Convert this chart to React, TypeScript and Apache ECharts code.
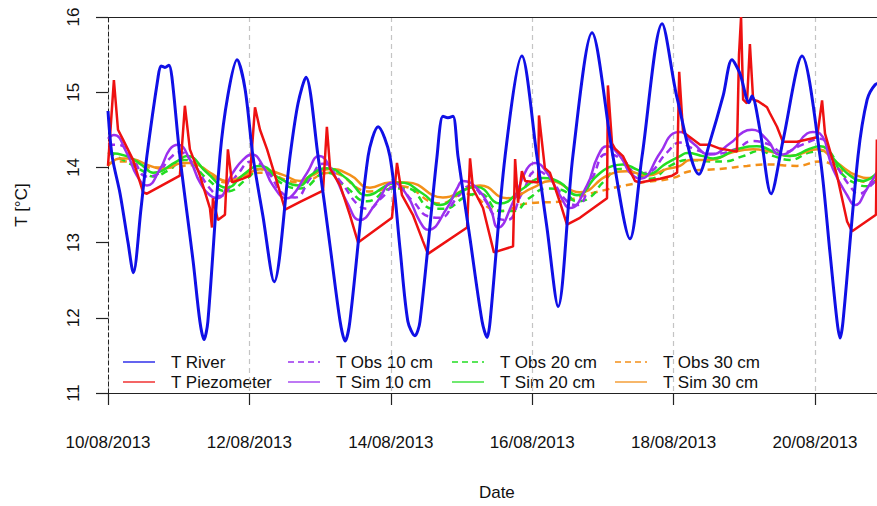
import React, { useEffect, useRef } from "react";
import * as echarts from "echarts";

// x values: hours since 10/08/2013 00:00 ; y values: temperature in °C
const dateTicksHours = [0, 48, 96, 144, 192, 240];
const xMaxHours = 264;
const yMin = 11;
const yMax = 16;

const tRiver: [number, number][] = [
  [0, 14.75], [1.4, 14.15], [4.1, 13.65], [6.8, 13.0], [8.6, 12.6], [11.2, 13.45], [13.2, 14.15],
  [17.0, 15.2], [18.0, 15.35], [19.3, 15.33], [20.7, 15.36], [21.7, 15.2], [24.4, 14.15], [28.9, 12.75],
  [31.2, 11.95], [32.6, 11.71], [33.9, 11.95], [38.0, 14.15], [40.7, 14.96], [43.8, 15.43], [46.5, 15.05],
  [49.2, 14.15], [52.6, 13.35], [56.4, 12.48], [61.8, 14.15], [64.5, 14.85], [67.2, 15.2], [71.3, 14.15],
  [75.4, 12.95], [78.8, 11.95], [80.5, 11.69], [82.1, 11.95], [88.3, 14.15], [91.7, 14.54], [95.7, 14.15],
  [99.1, 12.93], [101.8, 11.95], [104.2, 11.76], [105.9, 11.95], [111.7, 14.15], [113.7, 14.68],
  [115.4, 14.66], [117.1, 14.68], [118.8, 14.15], [122.9, 13.05], [127.0, 11.95], [128.7, 11.74],
  [129.7, 11.95], [134.8, 14.15], [140.5, 15.48], [145.6, 14.15], [149.0, 13.2], [152.8, 12.15],
  [157.8, 14.15], [164.3, 15.79], [171.4, 14.15], [177.2, 13.05], [181.3, 14.15], [188.1, 15.91],
  [193.2, 14.92], [200.6, 13.91], [204.4, 14.35], [208.8, 14.95], [211.8, 15.43], [214.5, 15.25],
  [217.6, 14.86], [218.6, 14.95], [221.3, 14.5], [225.1, 13.65], [229.1, 14.35], [235.6, 15.48],
  [241.7, 14.15], [245.1, 12.86], [247.5, 11.95], [248.5, 11.73], [249.5, 11.95], [254.6, 14.15],
  [257.7, 14.9], [260.4, 15.1], [262.5, 15.12],
];

const tPiezometer: [number, number][] = [
  [0, 14.02], [2.0, 15.16], [3.4, 14.5], [5.1, 14.37], [8.5, 14.1], [11.9, 13.67], [13.2, 13.65],
  [24.4, 13.89], [26.1, 14.82], [27.8, 14.24], [31.2, 13.89], [34.6, 13.46], [35.3, 13.2], [35.6, 13.59],
  [37.3, 13.3], [39.7, 13.37], [40.7, 14.24], [42.1, 13.8], [45.8, 13.85], [48.2, 13.89], [49.9, 14.8],
  [51.6, 14.5], [54.0, 14.24], [57.4, 13.8], [60.1, 13.44], [65.2, 13.54], [73.0, 13.69], [74.3, 14.54],
  [75.4, 13.98], [78.8, 13.76], [82.1, 13.37], [84.9, 13.0], [96.4, 13.33], [98.1, 14.06], [99.8, 13.63],
  [103.5, 13.37], [106.9, 13.02], [108.6, 12.85], [121.9, 13.2], [122.9, 14.12], [123.9, 13.72],
  [127.3, 13.46], [131.0, 12.87], [137.5, 12.95], [138.2, 14.11], [139.2, 13.53], [140.5, 13.95],
  [141.6, 13.82], [146.0, 13.8], [146.3, 14.69], [148.3, 13.99], [150.0, 13.93], [153.4, 13.54],
  [155.8, 13.24], [160.2, 13.33], [169.4, 13.59], [169.7, 15.09], [171.1, 14.32], [172.1, 14.25],
  [174.8, 14.15], [178.9, 13.82], [180.6, 13.8], [187.4, 13.85], [191.5, 13.89], [193.2, 13.93],
  [193.9, 15.27], [195.2, 14.47], [197.6, 14.4], [201.0, 14.3], [204.4, 14.3], [207.7, 14.25],
  [213.5, 14.21], [214.2, 15.5], [214.9, 16.0], [215.6, 14.9], [216.9, 14.85], [217.9, 15.64],
  [219.0, 14.9], [220.7, 14.88], [223.7, 14.8], [224.7, 14.72], [227.1, 14.54], [229.1, 14.34],
  [233.9, 14.34], [240.7, 14.4], [242.4, 14.89], [243.4, 14.45], [247.5, 13.89], [250.9, 13.28],
  [252.6, 13.15], [260.7, 13.37], [261.0, 14.37],
];

const tObs10: [number, number][] = [
  [0, 14.3], [3.4, 14.3], [8.5, 14.1], [13.2, 13.88], [16.3, 13.9], [21.0, 14.12], [24.4, 14.2],
  [28.9, 14.05], [34.6, 13.72], [38.0, 13.62], [43.8, 13.9], [48.9, 14.08], [54.0, 13.95], [59.4, 13.65],
  [63.5, 13.6], [68.6, 13.85], [73.0, 14.05], [78.8, 13.82], [84.9, 13.5], [88.3, 13.45], [93.0, 13.6],
  [97.4, 13.75], [103.5, 13.55], [108.6, 13.35], [112.7, 13.33], [118.5, 13.6], [122.9, 13.75],
  [127.3, 13.6], [132.1, 13.33], [135.4, 13.3], [140.5, 13.65], [145.6, 13.95], [150.0, 13.85],
  [155.8, 13.55], [159.2, 13.5], [164.3, 13.85], [169.4, 14.18], [174.8, 14.1], [179.6, 13.92],
  [183.0, 13.93], [189.8, 14.2], [194.2, 14.33], [198.6, 14.25], [205.4, 14.18], [213.5, 14.25],
  [218.6, 14.35], [224.7, 14.3], [229.1, 14.2], [235.6, 14.3], [241.7, 14.38], [246.1, 14.1],
  [251.9, 13.75], [255.0, 13.65], [258.7, 13.75], [261.0, 13.85],
];

const tSim10: [number, number][] = [
  [0, 14.38], [2.0, 14.43], [6.4, 14.19], [9.8, 13.89], [13.2, 13.76], [17.7, 13.98], [21.0, 14.24],
  [23.8, 14.3], [27.8, 14.1], [31.2, 13.8], [34.6, 13.63], [37.0, 13.59], [42.4, 13.93], [45.8, 14.1],
  [48.9, 14.17], [52.6, 14.02], [56.0, 13.76], [60.8, 13.59], [61.8, 13.6], [67.6, 13.93], [71.6, 14.15],
  [76.4, 13.93], [81.1, 13.54], [85.5, 13.3], [91.3, 13.54], [96.7, 13.8], [101.5, 13.63], [105.9, 13.28],
  [108.6, 13.17], [115.1, 13.46], [118.5, 13.72], [120.5, 13.82], [125.3, 13.72], [129.7, 13.46],
  [132.4, 13.2], [137.5, 13.54], [142.2, 13.98], [145.0, 14.06], [149.0, 13.93], [153.4, 13.63],
  [156.8, 13.46], [162.6, 13.76], [166.3, 14.15], [169.4, 14.28], [173.8, 14.15], [177.2, 13.93],
  [180.6, 13.85], [187.4, 14.19], [191.8, 14.45], [194.2, 14.47], [198.6, 14.32], [204.4, 14.17],
  [211.2, 14.32], [215.6, 14.47], [218.6, 14.5], [223.7, 14.37], [228.1, 14.17], [232.5, 14.24],
  [237.3, 14.45], [239.3, 14.47], [241.7, 14.45], [246.1, 13.98], [250.9, 13.63], [253.6, 13.5],
  [257.7, 13.72], [261.0, 13.93],
];

const tObs20: [number, number][] = [
  [0, 14.2], [5.1, 14.1], [11.9, 13.95], [15.3, 13.88], [20.0, 13.95], [26.1, 14.1], [33.6, 13.85],
  [40.4, 13.68], [47.2, 13.85], [51.6, 13.98], [59.4, 13.78], [65.2, 13.72], [74.3, 13.93], [80.5, 13.75],
  [87.9, 13.55], [96.7, 13.72], [101.5, 13.72], [110.3, 13.45], [114.0, 13.45], [121.9, 13.62],
  [126.3, 13.65], [133.1, 13.42], [137.5, 13.42], [143.3, 13.6], [149.0, 13.72], [154.1, 13.7],
  [159.2, 13.55], [163.6, 13.6], [168.0, 13.8], [173.8, 13.98], [179.6, 13.9], [184.0, 13.85],
  [190.8, 14.02], [197.6, 14.1], [204.4, 14.08], [208.8, 14.08], [215.6, 14.15], [221.3, 14.22],
  [226.0, 14.15], [231.5, 14.1], [238.3, 14.2], [243.4, 14.22], [249.5, 13.9], [254.3, 13.78],
  [257.7, 13.75], [261.0, 13.85],
];

const tSim20: [number, number][] = [
  [0, 14.19], [6.4, 14.15], [11.9, 14.02], [15.3, 13.93], [23.4, 14.08], [26.8, 14.15], [33.6, 13.93],
  [40.4, 13.73], [45.8, 13.9], [51.6, 14.02], [58.4, 13.85], [65.2, 13.76], [68.6, 13.89], [74.3, 13.99],
  [81.1, 13.85], [87.9, 13.63], [95.7, 13.78], [99.1, 13.8], [106.9, 13.65], [112.7, 13.5], [119.5, 13.67],
  [125.3, 13.74], [133.1, 13.52], [140.9, 13.72], [147.7, 13.86], [153.4, 13.8], [159.2, 13.63],
  [166.0, 13.89], [171.4, 14.02], [174.8, 14.04], [179.6, 13.97], [183.0, 13.91], [189.8, 14.06],
  [194.2, 14.15], [196.6, 14.19], [202.0, 14.15], [205.4, 14.12], [213.5, 14.24], [220.3, 14.28],
  [227.1, 14.19], [231.5, 14.15], [238.3, 14.25], [241.7, 14.28], [247.5, 14.06], [251.9, 13.89],
  [256.3, 13.82], [261.0, 13.93],
];

const tObs30: [number, number][] = [
  [0, 14.05], [5.1, 14.08], [14.3, 14.0], [21.0, 14.0], [28.9, 14.03], [40.4, 13.8], [51.6, 13.93],
  [65.2, 13.8], [75.4, 13.93], [88.9, 13.68], [99.1, 13.75], [112.7, 13.52], [121.2, 13.65],
  [133.1, 13.42], [142.2, 13.52], [154.1, 13.55], [163.6, 13.65], [178.2, 13.78], [191.8, 13.86],
  [197.6, 13.95], [207.7, 13.98], [216.9, 14.02], [223.7, 14.04], [233.9, 14.02], [241.7, 14.08],
  [249.5, 13.95], [258.7, 13.8], [261.0, 13.82],
];

const tSim30: [number, number][] = [
  [0, 14.02], [4.1, 14.12], [6.8, 14.12], [14.3, 14.02], [18.7, 13.98], [25.5, 14.06], [27.8, 14.06],
  [34.6, 13.93], [40.4, 13.82], [48.2, 13.93], [51.6, 13.98], [59.4, 13.9], [65.2, 13.82], [68.6, 13.88],
  [75.4, 13.98], [82.1, 13.9], [88.9, 13.73], [95.7, 13.8], [101.5, 13.8], [113.7, 13.6], [121.9, 13.72],
  [126.3, 13.76], [135.4, 13.59], [144.3, 13.73], [150.0, 13.82], [160.2, 13.67], [169.4, 13.89],
  [176.2, 13.95], [183.0, 13.89], [189.8, 13.98], [194.2, 14.02], [197.6, 14.1], [204.4, 14.1],
  [212.0, 14.2], [219.0, 14.24], [224.7, 14.21], [231.5, 14.15], [240.7, 14.24], [247.5, 14.06],
  [254.3, 13.89], [258.7, 13.86], [261.0, 13.91],
];

const FONT = '"Liberation Sans", Arial, Helvetica, sans-serif';
const TEXT_COLOR = "#111";

type Def = { name: string; data: [number, number][]; color: string; dashed: boolean; width: number; smooth: number | boolean; z: number };

// legend order (column-wise, as in the reference)
const defs: Def[] = [
  { name: "T River", data: tRiver, color: "#1010e6", dashed: false, width: 3, smooth: 0.3, z: 10 },
  { name: "T Piezometer", data: tPiezometer, color: "#ee1111", dashed: false, width: 2.5, smooth: false, z: 9 },
  { name: "T Obs 10 cm", data: tObs10, color: "#9b30ee", dashed: true, width: 2.5, smooth: 0.5, z: 3 },
  { name: "T Sim 10 cm", data: tSim10, color: "#9b30ee", dashed: false, width: 2.5, smooth: 0.5, z: 6 },
  { name: "T Obs 20 cm", data: tObs20, color: "#22dd22", dashed: true, width: 2.5, smooth: 0.5, z: 2 },
  { name: "T Sim 20 cm", data: tSim20, color: "#22dd22", dashed: false, width: 2.5, smooth: 0.5, z: 5 },
  { name: "T Obs 30 cm", data: tObs30, color: "#f39019", dashed: true, width: 2.5, smooth: 0.5, z: 1 },
  { name: "T Sim 30 cm", data: tSim30, color: "#f39019", dashed: false, width: 2.5, smooth: 0.5, z: 4 },
];

const legendColX = [123, 288, 452, 615];
const legendRowY = [362, 382];

function fmtDate(h: number): string {
  const day = 10 + Math.round(h / 24);
  return `${day < 10 ? "0" + day : day}/08/2013`;
}

export default function App() {
  const ref = useRef<HTMLDivElement>(null);
  useEffect(() => {
    if (!ref.current) return;
    const chart = echarts.init(ref.current, undefined, { renderer: "svg" });
    const legendGraphics: any[] = [];
    defs.forEach((d, i) => {
      const x = legendColX[Math.floor(i / 2)];
      const y = legendRowY[i % 2];
      legendGraphics.push({
        type: "line",
        shape: { x1: x, y1: y, x2: x + 32, y2: y },
        style: { stroke: d.color, lineWidth: 1.3, lineDash: d.dashed ? [6, 4] : null },
        silent: true,
      });
      legendGraphics.push({
        type: "text",
        x: x + 48,
        y: y,
        style: { text: d.name, fontSize: 17, fontFamily: FONT, fill: TEXT_COLOR, align: "left", verticalAlign: "middle" },
        silent: true,
      });
    });
    chart.setOption({
      animation: false,
      backgroundColor: "#ffffff",
      textStyle: { fontFamily: FONT, color: TEXT_COLOR },
      grid: { left: 108, top: 17, width: 777.7, height: 386, containLabel: false },
      xAxis: [
        {
          type: "value",
          min: 0,
          max: xMaxHours,
          interval: 48,
          position: "bottom",
          axisLine: { show: true, lineStyle: { color: "#222", width: 1.2 } },
          axisTick: { show: true, length: 12, inside: false, lineStyle: { color: "#222", width: 1.2 } },
          axisLabel: {
            margin: 41,
            fontSize: 17,
            fontFamily: FONT,
            color: TEXT_COLOR,
            showMaxLabel: false,
            formatter: (v: number) => (dateTicksHours.indexOf(v) >= 0 ? fmtDate(v) : ""),
          },
          splitLine: { show: true, lineStyle: { color: "#c4c4c4", type: [5, 4], width: 1.2 } },
          name: "Date",
          nameLocation: "middle",
          nameGap: 91,
          nameTextStyle: { fontSize: 17, fontFamily: FONT, color: TEXT_COLOR },
        },
        {
          type: "value",
          min: 0,
          max: xMaxHours,
          position: "top",
          axisLine: { show: true, onZero: false, lineStyle: { color: "#222", width: 1.2 } },
          axisTick: { show: false },
          axisLabel: { show: false },
          splitLine: { show: false },
        },
      ],
      yAxis: {
        type: "value",
        min: yMin,
        max: yMax,
        interval: 1,
        axisLine: { show: true, onZero: false, lineStyle: { color: "#222", width: 1, type: [4, 3] } },
        axisTick: { show: true, length: 12, lineStyle: { color: "#222", width: 1.2 } },
        axisLabel: { rotate: 90, margin: 26, fontSize: 17, fontFamily: FONT, color: TEXT_COLOR },
        splitLine: { show: false },
        name: "T [°C]",
        nameLocation: "middle",
        nameRotate: 90,
        nameGap: 78,
        nameTextStyle: { fontSize: 17, fontFamily: FONT, color: TEXT_COLOR },
      },
      series: defs.map((d) => ({
        name: d.name,
        type: "line",
        data: d.data,
        showSymbol: false,
        symbol: "none",
        smooth: d.smooth,
        z: d.z,
        clip: true,
        silent: true,
        lineStyle: { color: d.color, width: d.width, type: d.dashed ? [7, 5] : "solid" },
      })),
      graphic: legendGraphics,
    });
    return () => chart.dispose();
  }, []);
  return <div ref={ref} style={{ position: "fixed", left: 0, top: 0, width: 960, height: 506 }} />;
}
